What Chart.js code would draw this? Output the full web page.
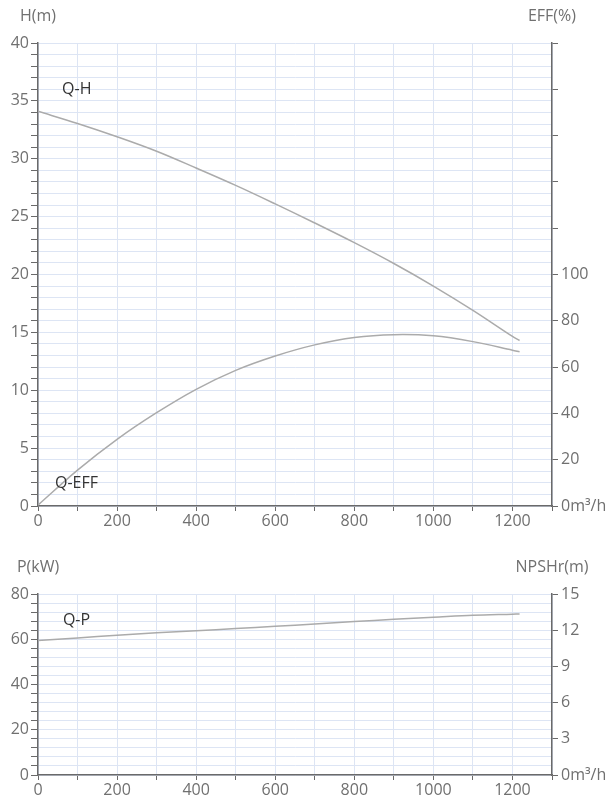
<!DOCTYPE html>
<html>
<head>
<meta charset="utf-8">
<script src="https://cdn.jsdelivr.net/npm/chart.js@4.4.1/dist/chart.umd.min.js"></script>
<style>
  html, body { margin: 0; padding: 0; background: #fff; }
  .box { position: relative; width: 610px; }
  #top { height: 540px; }
  #bottom { height: 260px; }
</style>
</head>
<body>
<div class="box" id="top"><canvas id="chartTop"></canvas></div>
<div class="box" id="bottom"><canvas id="chartBottom"></canvas></div>
<script>
// Flow (m3/h) sample points
const flow = [0, 100, 200, 300, 400, 500, 600, 700, 800, 900, 1000, 1100, 1200, 1218];
// Head (m)
const head = [34.1, 33.05, 31.9, 30.65, 29.2, 27.7, 26.1, 24.45, 22.75, 20.95, 19.0, 16.9, 14.65, 14.3];
// Efficiency (%)
const eff = [0.4, 15.5, 28.8, 40.3, 50.4, 58.6, 64.8, 69.6, 72.8, 74.0, 73.5, 71.0, 67.3, 66.6];
// Shaft power (kW)
const power = [59.4, 60.6, 61.8, 62.9, 63.8, 64.7, 65.7, 66.7, 67.8, 68.8, 69.7, 70.6, 71.1, 71.2];

const xTicks = { min: 0, max: 1300, step: 100, labelEvery: 200 };
const headTicks = { min: 0, max: 40, step: 1, labelEvery: 5 };
const effTicks = { min: 0, max: 200, step: 20, labelMax: 100 };
const powerTicks = { min: 0, max: 80, step: 4, labelEvery: 20 };
const npshTicks = { min: 0, max: 15, step: 3 };

const FONT = "'Open Sans', 'Noto Sans', sans-serif";
const AXIS = '#6a6a6a';
const GRID = '#dde5f4';
const CURVE = '#ababab';
const LABEL = '#707070';

const pts = ys => flow.map((q, i) => ({ x: q, y: ys[i] }));

function curve(ys, axis) {
  return {
    data: pts(ys),
    yAxisID: axis,
    borderColor: CURVE,
    borderWidth: 1.5,
    pointRadius: 0,
    tension: 0.35,
    fill: false
  };
}

function xScale(height) {
  return {
    type: 'linear',
    min: xTicks.min, max: xTicks.max,
    afterFit: s => { s.height = height; },
    border: { color: AXIS, width: 1.5 },
    grid: { color: GRID, tickColor: AXIS, tickLength: 5, lineWidth: 1 },
    ticks: {
      stepSize: xTicks.step, autoSkip: false, maxRotation: 0, padding: 1,
      color: LABEL, font: { family: FONT, size: 16 },
      callback: v => (v % xTicks.labelEvery === 0 ? v : '')
    }
  };
}

function leftScale(t) {
  return {
    position: 'left',
    min: t.min, max: t.max,
    afterFit: s => { s.width = 38; },
    border: { color: AXIS, width: 1.5 },
    grid: { color: GRID, tickColor: AXIS, tickLength: 7, lineWidth: 1 },
    ticks: {
      stepSize: t.step, autoSkip: false, padding: 2,
      color: LABEL, font: { family: FONT, size: 16 },
      callback: v => (v % t.labelEvery === 0 ? v : '')
    }
  };
}

function rightScale(t, fmt) {
  return {
    position: 'right',
    min: t.min, max: t.max,
    afterFit: s => { s.width = 58; },
    border: { color: AXIS, width: 1.5 },
    grid: { drawOnChartArea: false, tickColor: AXIS, tickLength: 6 },
    ticks: {
      stepSize: t.step, autoSkip: false, padding: 3,
      color: LABEL, font: { family: FONT, size: 16 },
      callback: fmt
    }
  };
}

// axis titles and curve names
const textPlugin = {
  id: 'texts',
  afterDraw(chart, args, opts) {
    const { ctx, chartArea, scales } = chart;
    ctx.save();
    ctx.font = '16px ' + FONT;
    ctx.textBaseline = 'middle';
    ctx.fillStyle = LABEL;
    ctx.textAlign = 'center';
    ctx.fillText(opts.left, chartArea.left, chartArea.top - opts.titleGap);
    ctx.fillText(opts.right, chartArea.right, chartArea.top - opts.titleGap);
    ctx.fillStyle = '#333';
    ctx.textAlign = 'left';
    opts.names.forEach(n => {
      ctx.fillText(n.text, scales.x.getPixelForValue(n.x), scales.y.getPixelForValue(n.y));
    });
    ctx.restore();
  }
};

const baseOptions = {
  responsive: true,
  maintainAspectRatio: false,
  animation: false,
  events: [],
  plugins: { legend: { display: false }, tooltip: { enabled: false } }
};

new Chart(document.getElementById('chartTop'), {
  type: 'line',
  data: { datasets: [curve(head, 'y'), curve(eff, 'y1')] },
  options: {
    ...baseOptions,
    layout: { padding: { top: 43, left: 0, right: 0, bottom: 0 } },
    scales: {
      x: xScale(34),
      y: leftScale(headTicks),
      y1: rightScale(effTicks, v => (v === 0 ? '0m³/h' : (v <= effTicks.labelMax ? v : '')))
    },
    plugins: {
      ...baseOptions.plugins,
      texts: {
        left: 'H(m)', right: 'EFF(%)', titleGap: 27,
        names: [
          { text: 'Q-H', x: 61, y: 36.0 },
          { text: 'Q-EFF', x: 43, y: 1.95 }
        ]
      }
    }
  },
  plugins: [textPlugin]
});

new Chart(document.getElementById('chartBottom'), {
  type: 'line',
  data: { datasets: [curve(power, 'y')] },
  options: {
    ...baseOptions,
    layout: { padding: { top: 54, left: 0, right: 0, bottom: 0 } },
    scales: {
      x: xScale(25),
      y: leftScale(powerTicks),
      y1: rightScale(npshTicks, v => (v === 0 ? '0m³/h' : v))
    },
    plugins: {
      ...baseOptions.plugins,
      texts: {
        left: 'P(kW)', right: 'NPSHr(m)', titleGap: 27,
        names: [
          { text: 'Q-P', x: 63, y: 68.5 }
        ]
      }
    }
  },
  plugins: [textPlugin]
});
</script>
</body>
</html>
